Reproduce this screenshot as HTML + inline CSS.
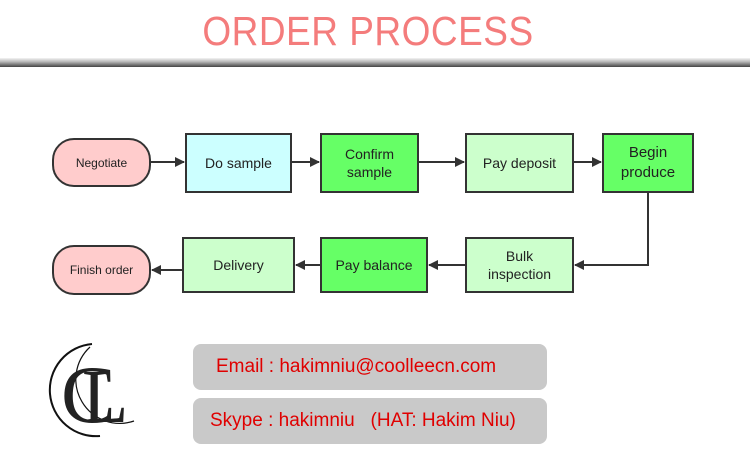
<!DOCTYPE html>
<html><head><style>
body{margin:0;width:750px;height:461px;background:#fff;position:relative;overflow:hidden;font-family:"Liberation Sans",Arial,sans-serif}
.t{position:absolute;left:0;width:736px;top:11px;text-align:center;font-size:37px;color:#f47c7c;letter-spacing:0.5px;transform:scaleY(1.1)}
.bar{position:absolute;left:0;top:58px;width:750px;height:9px;background:linear-gradient(#f4f4f4,#bbb 40%,#444)}
.b{position:absolute;border:2px solid #333;box-sizing:border-box;display:flex;align-items:center;justify-content:center;text-align:center;font-size:14px;color:#222;line-height:18px}
.p{border-radius:22px;font-size:12px;background:#ffcccc}
.g{background:#66ff66}.l{background:#ccffcc}.c{background:#ccffff}
.i{position:absolute;left:193px;width:354px;height:46px;background:#c9c9c9;border-radius:8px;color:#e00000;font-size:19px;box-sizing:border-box;padding-top:12px;white-space:nowrap}
</style></head><body>
<div class="t">ORDER PROCESS</div>
<div class="bar"></div>
<div class="b p" style="left:52px;top:138px;width:99px;height:49px">Negotiate</div>
<div class="b c" style="left:185px;top:133px;width:107px;height:60px">Do sample</div>
<div class="b g" style="left:320px;top:133px;width:99px;height:60px">Confirm<br>sample</div>
<div class="b l" style="left:465px;top:133px;width:109px;height:60px">Pay deposit</div>
<div class="b g" style="left:602px;top:133px;width:92px;height:60px;font-size:15px;line-height:20px">Begin<br>produce</div>
<div class="b p" style="left:52px;top:245px;width:99px;height:50px">Finish order</div>
<div class="b l" style="left:182px;top:237px;width:113px;height:56px">Delivery</div>
<div class="b g" style="left:320px;top:237px;width:108px;height:56px">Pay balance</div>
<div class="b l" style="left:465px;top:237px;width:109px;height:56px">Bulk<br>inspection</div>
<svg width="750" height="461" style="position:absolute;left:0;top:0">
<defs><marker id="a" markerWidth="10" markerHeight="10" refX="9" refY="5" orient="auto" markerUnits="userSpaceOnUse"><path d="M0,0 L10,5 L0,10z" fill="#333"/></marker></defs>
<g stroke="#333" stroke-width="2" fill="none">
<line x1="151" y1="162" x2="184" y2="162" marker-end="url(#a)"/>
<line x1="292" y1="162" x2="319" y2="162" marker-end="url(#a)"/>
<line x1="419" y1="162" x2="464" y2="162" marker-end="url(#a)"/>
<line x1="574" y1="162" x2="601" y2="162" marker-end="url(#a)"/>
<polyline points="648,193 648,265 575,265" marker-end="url(#a)"/>
<line x1="465" y1="265" x2="429" y2="265" marker-end="url(#a)"/>
<line x1="320" y1="265" x2="296" y2="265" marker-end="url(#a)"/>
<line x1="182" y1="270" x2="152" y2="270" marker-end="url(#a)"/>
</g>
<path d="M92,344 A46,46 0 0 0 100,436" stroke="#111" stroke-width="2" fill="none"/>
<path d="M90,347 A44,44 0 0 0 134,421" stroke="#111" stroke-width="1.2" fill="none"/>
<text x="61" y="422" font-family="Liberation Serif,serif" font-size="82" fill="#222">C</text>
<text x="82" y="422" font-family="Liberation Serif,serif" font-size="76" fill="#222">L</text>
</svg>
<div class="i" style="top:344px;padding-left:23px">Email : hakimniu@coolleecn.com</div>
<div class="i" style="top:398px;padding-left:17px">Skype : hakimniu&nbsp;&nbsp;&nbsp;(HAT: Hakim Niu)</div>
</body></html>
